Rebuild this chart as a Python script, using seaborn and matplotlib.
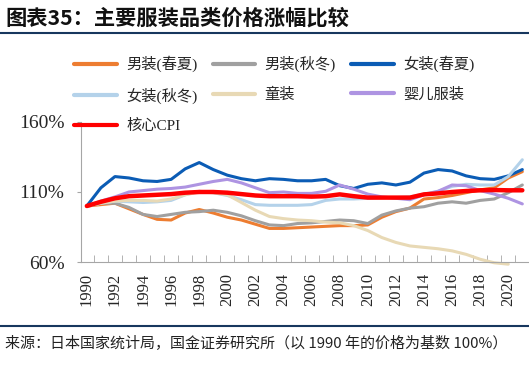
import numpy as np
import matplotlib
matplotlib.use("Agg")
import matplotlib.pyplot as plt
from matplotlib.lines import Line2D
import seaborn as sns

# values (1990 = 100)
years = list(range(1990, 2022))
men_ss = [100, 101, 102, 98, 94, 90.5, 90, 95, 97.5, 95, 92, 90, 87, 84, 84, 84.5,
          85, 85.5, 86, 86, 86.5, 92, 96, 98.5, 105, 106, 107.5, 109.5, 111.5, 113, 120, 124.5]
men_aw = [100, 102, 102, 99, 94, 92.5, 94, 95.5, 96, 97, 95.5, 93, 89.5, 86.5, 86, 87.5,
          88, 89, 90, 89.5, 87.5, 93.5, 96.5, 98.5, 99.5, 102, 103, 102, 104, 105, 109.5, 115]
women_ss = [100, 113, 121, 120, 118, 117.5, 119, 126.5, 131, 126, 122, 119.5, 118, 119.5, 119, 118,
            118, 119, 114.5, 112.5, 115.5, 116.5, 115, 117, 123.5, 126, 125, 121.5, 119.5, 119, 121.5, 126]
women_aw = [100, 102, 103.5, 103, 102.5, 103, 104, 108, 110.5, 109.5, 107.5, 104.5, 101, 100.5, 100.5, 100.5,
            101, 104, 105, 105, 105.5, 106, 106, 106.5, 108.5, 110.5, 114, 115.5, 115, 115, 121, 133]
kids = [100, 102, 103.5, 104, 104, 103.5, 105, 108, 110, 109.5, 108, 102.5, 97, 92.5, 91, 90,
        89.5, 88.5, 88, 86, 82.5, 77.5, 74, 71.5, 70.5, 69.5, 68, 65.5, 62, 59.5, 58.5, np.nan]
baby = [100, 103.5, 106.5, 110, 111, 112, 112.5, 113.5, 115.5, 117.5, 119, 116.5, 113, 109.5, 110, 109,
        109, 110.5, 115, 112, 108.5, 106.5, 105.5, 104.5, 108, 110.5, 115, 114.5, 111, 108.5, 105.5, 101.5]
core_cpi = [100, 103, 105.5, 107, 107.5, 108, 108.5, 109.5, 110, 110, 109.5, 108.5, 107.5, 107, 107, 107,
            106.7, 107, 108.3, 107, 106, 106, 106, 106, 108.3, 109, 110, 110.7, 111.2, 111.4, 111.2, 111.2]

names = ["男装(春夏)", "男装(秋冬)", "女装(春夏)", "女装(秋冬)", "童装", "婴儿服装", "核心CPI"]
series = [men_ss, men_aw, women_ss, women_aw, kids, baby, core_cpi]
colors = ["#ED7D31", "#A0A0A0", "#0B5CB5", "#B4D2EA", "#E8D9B5", "#AE94E2", "#FF0000"]
widths = [2.2, 2.2, 2.2, 2.2, 2.2, 2.2, 3.2]

sns.set_style("ticks")
plt.rcParams['font.family'] = ['Liberation Serif', 'Noto Sans CJK SC']

fig = plt.figure(figsize=(5.29, 3.65), dpi=100)
ax = fig.add_axes([0.153, 0.282, 0.845, 0.384])

handles = []
for name, vals, c, w in zip(names, series, colors, widths):
    sns.lineplot(x=years, y=vals, color=c, linewidth=w, ax=ax, legend=False)
    ln = ax.lines[-1]
    ln.set_clip_on(False)
    handles.append(Line2D([], [], color=c, linewidth=3, label=name))

ax.set_xlim(1989.58, 2021.4)
ax.set_ylim(60, 160)
ax.set_yticks([60, 110, 160])
ax.set_yticklabels(["60%", "110%", "160%"])
ax.set_xticks(years[::2])
ax.set_xticklabels([str(y) for y in years[::2]], rotation=90)
ax.set_xticks([y + 0.5 for y in years[:-1]], minor=True)
ax.tick_params(axis='y', length=3, color="#a6a6a6", labelsize=14, pad=9)
ax.tick_params(axis='x', which='major', length=0, labelsize=12, pad=8)
ax.tick_params(axis='x', which='minor', direction='in', length=5, color="#a6a6a6")
sns.despine(ax=ax)
for s in ["left", "bottom"]:
    ax.spines[s].set_color("#a6a6a6")
ax.set_xlabel("")
ax.set_ylabel("")

# legend: column-major order so the rows read like the original
order = [0, 3, 6, 1, 4, 2, 5]
fig.legend([handles[i] for i in order], [names[i] for i in order],
           loc="upper left", bbox_to_anchor=(0.14, 0.847), ncol=3, frameon=False,
           fontsize=11, handlelength=2.8, handletextpad=0.6, columnspacing=1.0,
           labelspacing=1.0, borderpad=0, borderaxespad=0)

fig.text(0.01, 0.951, "图表35：主要服装品类价格涨幅比较", fontsize=15.3, fontweight="bold",
         style="italic", va="center", ha="left", color="#111111", family=["Noto Sans CJK SC"])
fig.add_artist(Line2D([0, 1], [0.91, 0.91], color="#17375E", linewidth=1.5))
fig.add_artist(Line2D([0, 1], [0.107, 0.107], color="#17375E", linewidth=1.5))
fig.text(0.01, 0.06, "来源：日本国家统计局，国金证券研究所（以 1990 年的价格为基数 100%）",
         fontsize=10.8, va="center", ha="left", color="#222222", family=["Noto Sans CJK SC"])

fig.savefig("out.png", dpi=100)
